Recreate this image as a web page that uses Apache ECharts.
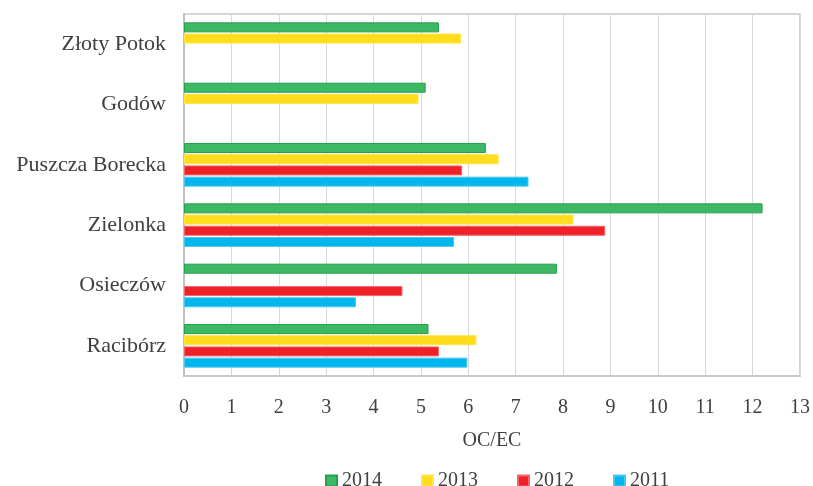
<!DOCTYPE html>
<html>
<head>
<meta charset="utf-8">
<script src="https://cdn.jsdelivr.net/npm/echarts@6/dist/echarts.min.js"></script>
<style>
  html, body { margin: 0; padding: 0; background: #fff; }
  #chart { width: 813px; height: 486px; }
</style>
</head>
<body>
<div id="chart"></div>
<script>
// Sites, listed top to bottom
const sites = ['Złoty Potok', 'Godów', 'Puszcza Borecka', 'Zielonka', 'Osieczów', 'Racibórz'];

// OC/EC ratio per year (null = no measurement)
const y2014 = [5.38, 5.10, 6.37, 12.21, 7.87, 5.16];
const y2013 = [5.85, 4.95, 6.64, 8.22, null, 6.17];
const y2012 = [null, null, 5.87, 8.89, 4.61, 5.38];
const y2011 = [null, null, 7.27, 5.70, 3.63, 5.98];

const years = ['2014', '2013', '2012', '2011'];
const xTicks = [0, 13, 1]; // min, max, step

const font = 'Liberation Serif, "Times New Roman", serif';
const textColor = '#404040';

const palette = {
  '2014': { fill: '#3db865', border: '#24a04c' },
  '2013': { fill: '#ffdc1c', border: '#ffe54a' },
  '2012': { fill: '#ee2128', border: '#f2666a' },
  '2011': { fill: '#00b6ec', border: '#4cc8f0' }
};

const valuesByYear = { '2014': y2014, '2013': y2013, '2012': y2012, '2011': y2011 };

const series = years.map(y => ({
  name: y,
  type: 'bar',
  data: valuesByYear[y],
  barWidth: 10,
  barGap: '12%',
  itemStyle: { color: palette[y].fill, borderColor: palette[y].border, borderWidth: 1 }
}));

const chart = echarts.init(document.getElementById('chart'));
chart.setOption({
  animation: false,
  textStyle: { fontFamily: font, color: textColor },
  grid: {
    left: 184, right: 13, top: 14, bottom: 110,
    show: true, borderColor: '#d4d4d4', borderWidth: 2
  },
  legend: {
    data: years,
    top: 466,
    left: 320,
    itemWidth: 11,
    itemHeight: 11,
    itemGap: 39,
    icon: 'rect',
    textStyle: { fontFamily: font, fontSize: 20, color: textColor }
  },
  xAxis: {
    type: 'value',
    min: xTicks[0], max: xTicks[1], interval: xTicks[2],
    name: 'OC/EC',
    nameLocation: 'middle',
    nameGap: 55,
    nameTextStyle: { fontFamily: font, fontSize: 20, color: textColor },
    axisLine: { show: true, lineStyle: { color: '#c8c8c8', width: 2 } },
    axisTick: { show: false },
    axisLabel: { fontFamily: font, fontSize: 20, color: textColor, margin: 22 },
    splitLine: { show: true, lineStyle: { color: '#d9d9d9', width: 1 } }
  },
  yAxis: {
    type: 'category',
    data: sites,
    inverse: true,
    axisLine: { show: true, lineStyle: { color: '#c0c0c0', width: 2 } },
    axisTick: { show: false },
    axisLabel: { fontFamily: font, fontSize: 22, color: textColor, margin: 18 },
    splitLine: { show: false }
  },
  series: series
});
</script>
</body>
</html>
